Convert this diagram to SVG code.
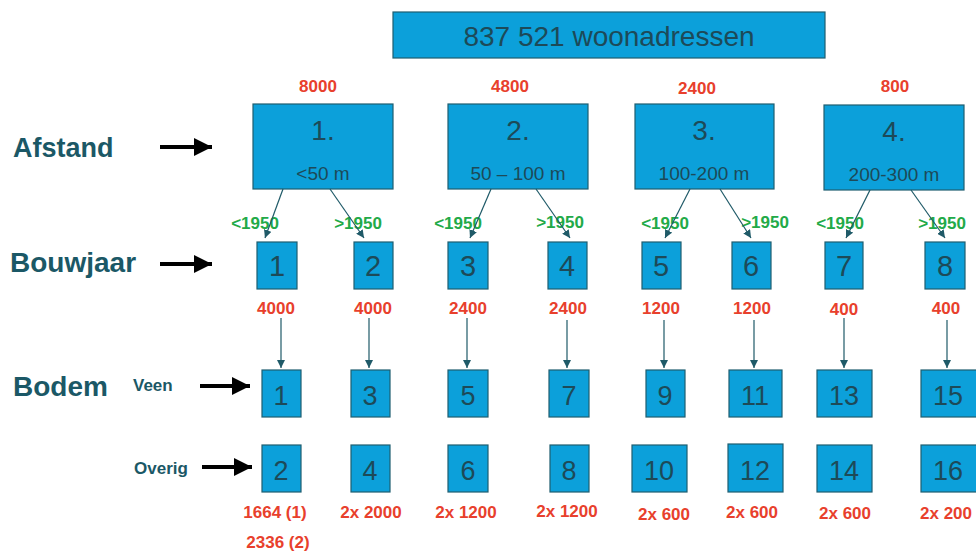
<svg xmlns="http://www.w3.org/2000/svg" width="976" height="552" viewBox="0 0 976 552">
<defs>
<style>
.box{fill:#0ca0da;stroke:#1f5e70;stroke-width:1.2}
.nt{font-family:"Liberation Sans",Arial,sans-serif;fill:#1d4a58;text-anchor:middle}
.lab{font-family:"Liberation Sans",Arial,sans-serif;font-weight:bold;fill:#1b5866}
.red{font-family:"Liberation Sans",Arial,sans-serif;font-weight:bold;fill:#e8402c;font-size:17px;text-anchor:middle}
.grn{font-family:"Liberation Sans",Arial,sans-serif;font-weight:bold;fill:#22aa48;font-size:17px;text-anchor:middle}
.con{stroke:#1f5a68;stroke-width:1.2;fill:none;marker-end:url(#ah)}
.big{stroke:#000;stroke-width:4;fill:none;marker-end:url(#bh)}
</style>
<marker id="ah" viewBox="0 0 10 10" refX="10" refY="5" markerWidth="8" markerHeight="8" markerUnits="userSpaceOnUse" orient="auto"><path d="M0,0 L10,5 L0,10 z" fill="#1f5a68"/></marker>
<marker id="bh" viewBox="0 0 10 10" refX="10" refY="5" markerWidth="4.5" markerHeight="4.5" orient="auto"><path d="M0,0 L10,5 L0,10 z" fill="#000"/></marker>
</defs>
<rect width="976" height="552" fill="#fff"/>

<g id="labels">
<text class="lab" x="13" y="157" font-size="27">Afstand</text>
<text class="lab" x="10" y="272" font-size="28">Bouwjaar</text>
<text class="lab" x="13" y="396" font-size="28">Bodem</text>
<text class="lab" x="133" y="391" font-size="17">Veen</text>
<text class="lab" x="134" y="474" font-size="17">Overig</text>
</g>

<g id="top"><rect class="box" x="393" y="12" width="432" height="46"/><text class="nt" x="609" y="46" font-size="28">837 521 woonadressen</text></g>

<g id="a1"><rect class="box" x="253" y="104" width="140" height="85"/><text class="nt" x="323" y="140" font-size="28">1.</text><text class="nt" x="323" y="180" font-size="19">&lt;50 m</text></g>
<g id="a2"><rect class="box" x="448" y="104" width="140" height="85"/><text class="nt" x="518" y="140" font-size="28">2.</text><text class="nt" x="518" y="180" font-size="19">50 – 100 m</text></g>
<g id="a3"><rect class="box" x="635" y="104" width="139" height="85"/><text class="nt" x="704" y="140" font-size="28">3.</text><text class="nt" x="704" y="180" font-size="19">100-200 m</text></g>
<g id="a4"><rect class="box" x="824" y="105" width="140" height="85"/><text class="nt" x="894" y="141" font-size="28">4.</text><text class="nt" x="894" y="181" font-size="19">200-300 m</text></g>

<g id="b1"><rect class="box" x="257" y="242" width="40" height="47"/><text class="nt" x="277" y="276" font-size="29">1</text></g>
<g id="b2"><rect class="box" x="354" y="242" width="39" height="47"/><text class="nt" x="373" y="276" font-size="29">2</text></g>
<g id="b3"><rect class="box" x="448" y="242" width="40" height="47"/><text class="nt" x="468" y="276" font-size="29">3</text></g>
<g id="b4"><rect class="box" x="548" y="242" width="39" height="47"/><text class="nt" x="567" y="276" font-size="29">4</text></g>
<g id="b5"><rect class="box" x="642" y="242" width="39" height="47"/><text class="nt" x="661" y="276" font-size="29">5</text></g>
<g id="b6"><rect class="box" x="732" y="242" width="39" height="47"/><text class="nt" x="751" y="276" font-size="29">6</text></g>
<g id="b7"><rect class="box" x="825" y="242" width="38" height="47"/><text class="nt" x="844" y="276" font-size="29">7</text></g>
<g id="b8"><rect class="box" x="925" y="242" width="40" height="47"/><text class="nt" x="945" y="276" font-size="29">8</text></g>

<g id="v1"><rect class="box" x="262" y="370" width="39" height="47"/><text class="nt" x="281" y="405" font-size="27">1</text></g>
<g id="v3"><rect class="box" x="351" y="370" width="39" height="47"/><text class="nt" x="370" y="405" font-size="27">3</text></g>
<g id="v5"><rect class="box" x="448" y="370" width="40" height="47"/><text class="nt" x="468" y="405" font-size="27">5</text></g>
<g id="v7"><rect class="box" x="549" y="370" width="40" height="47"/><text class="nt" x="569" y="405" font-size="27">7</text></g>
<g id="v9"><rect class="box" x="646" y="370" width="39" height="47"/><text class="nt" x="665" y="405" font-size="27">9</text></g>
<g id="v11"><rect class="box" x="729" y="370" width="53" height="47"/><text class="nt" x="755" y="405" font-size="27">11</text></g>
<g id="v13"><rect class="box" x="817" y="370" width="55" height="47"/><text class="nt" x="844" y="405" font-size="27">13</text></g>
<g id="v15"><rect class="box" x="921" y="370" width="56" height="47"/><text class="nt" x="948" y="405" font-size="27">15</text></g>

<g id="o2"><rect class="box" x="262" y="445" width="39" height="47"/><text class="nt" x="281" y="480" font-size="27">2</text></g>
<g id="o4"><rect class="box" x="351" y="445" width="39" height="47"/><text class="nt" x="370" y="480" font-size="27">4</text></g>
<g id="o6"><rect class="box" x="448" y="445" width="40" height="47"/><text class="nt" x="468" y="480" font-size="27">6</text></g>
<g id="o8"><rect class="box" x="550" y="445" width="39" height="47"/><text class="nt" x="569" y="480" font-size="27">8</text></g>
<g id="o10"><rect class="box" x="632" y="445" width="55" height="47"/><text class="nt" x="659" y="480" font-size="27">10</text></g>
<g id="o12"><rect class="box" x="728" y="444" width="55" height="48"/><text class="nt" x="755" y="480" font-size="27">12</text></g>
<g id="o14"><rect class="box" x="817" y="445" width="55" height="47"/><text class="nt" x="844" y="480" font-size="27">14</text></g>
<g id="o16"><rect class="box" x="921" y="445" width="56" height="47"/><text class="nt" x="948" y="480" font-size="27">16</text></g>

<g id="numbers">
<text class="red" x="318" y="92">8000</text>
<text class="red" x="510" y="92">4800</text>
<text class="red" x="697" y="94">2400</text>
<text class="red" x="895" y="92">800</text>
<text class="red" x="276" y="314">4000</text>
<text class="red" x="373" y="314">4000</text>
<text class="red" x="468" y="314">2400</text>
<text class="red" x="568" y="314">2400</text>
<text class="red" x="661" y="314">1200</text>
<text class="red" x="752" y="314">1200</text>
<text class="red" x="844" y="315">400</text>
<text class="red" x="946" y="314">400</text>
<text class="red" x="275" y="518">1664 (1)</text>
<text class="red" x="278" y="548">2336 (2)</text>
<text class="red" x="371" y="518">2x 2000</text>
<text class="red" x="466" y="518">2x 1200</text>
<text class="red" x="567" y="517">2x 1200</text>
<text class="red" x="664" y="520">2x 600</text>
<text class="red" x="752" y="518">2x 600</text>
<text class="red" x="845" y="519">2x 600</text>
<text class="red" x="946" y="519">2x 200</text>
<text class="grn" x="255" y="229">&lt;1950</text>
<text class="grn" x="358" y="229">&gt;1950</text>
<text class="grn" x="458" y="229">&lt;1950</text>
<text class="grn" x="560" y="228">&gt;1950</text>
<text class="grn" x="665" y="229">&lt;1950</text>
<text class="grn" x="765" y="228">&gt;1950</text>
<text class="grn" x="840" y="229">&lt;1950</text>
<text class="grn" x="942" y="229">&gt;1950</text>
</g>

<g id="connectors">
<path class="big" d="M160,147 H212"/>
<path class="big" d="M160,264 H212"/>
<path class="big" d="M200,386 H250"/>
<path class="big" d="M202,467 H252"/>
<path class="con" d="M283,189 L265,238"/>
<path class="con" d="M330,189 L364,238"/>
<path class="con" d="M491,189 L470,238"/>
<path class="con" d="M536,189 L570,238"/>
<path class="con" d="M690,189 L665,238"/>
<path class="con" d="M720,189 L751,238"/>
<path class="con" d="M870,190 L846,238"/>
<path class="con" d="M911,190 L945,238"/>
<path class="con" d="M281,318 V368"/>
<path class="con" d="M369,318 V368"/>
<path class="con" d="M467,318 V368"/>
<path class="con" d="M567,320 V368"/>
<path class="con" d="M664,320 V368"/>
<path class="con" d="M754,320 V368"/>
<path class="con" d="M844,318 V368"/>
<path class="con" d="M947,320 V368"/>
</g>
</svg>
